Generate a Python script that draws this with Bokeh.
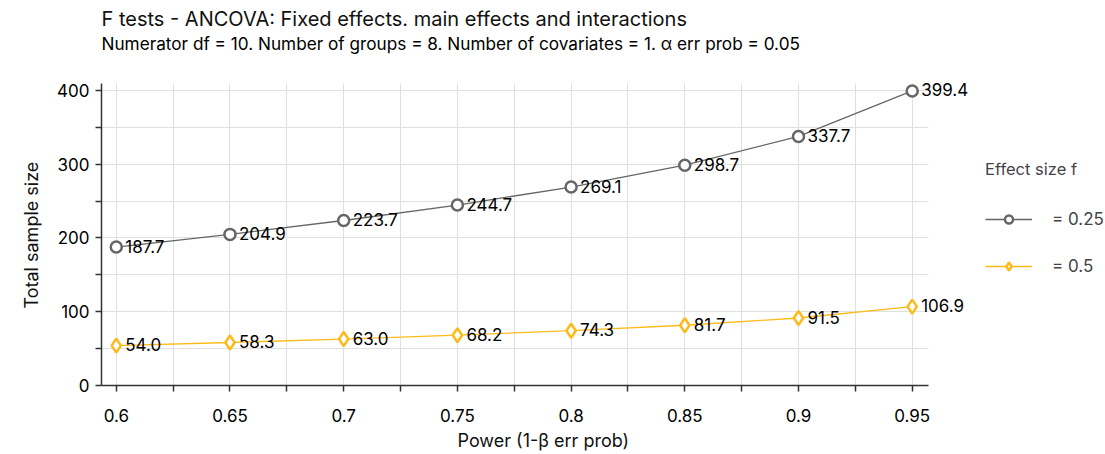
from bokeh.plotting import figure
from bokeh.models import (Range1d, FixedTicker, Legend, LegendItem, Title, ColumnDataSource,
                          LabelSet, Label)
from bokeh.core.properties import value
from bokeh.embed import file_html
from bokeh.resources import INLINE

power = [0.6, 0.65, 0.7, 0.75, 0.8, 0.85, 0.9, 0.95]
n_f025 = [187.7, 204.9, 223.7, 244.7, 269.1, 298.7, 337.7, 399.4]
n_f05 = [54.0, 58.3, 63.0, 68.2, 74.3, 81.7, 91.5, 106.9]
series_labels = ["= 0.25", "= 0.5"]
x_ticks = [0.6, 0.65, 0.7, 0.75, 0.8, 0.85, 0.9, 0.95]
x_minor = [0.625, 0.675, 0.725, 0.775, 0.825, 0.875, 0.925]
y_ticks = [0, 100, 200, 300, 400]
y_minor = [50, 150, 250, 350]
title_text = "F tests - ANCOVA: Fixed effects. main effects and interactions"
subtitle_text = "Numerator df = 10. Number of groups = 8. Number of covariates = 1. α err prob = 0.05"
x_label = "Power (1-β err prob)"
y_label = "Total sample size"

FONT = "Inter"
GRAY = "#666666"
YELLOW = "#FDBB1A"
X_AXIS_END = 0.957
Y_AXIS_END = 410

p = figure(width=1105, height=454, output_backend="svg", toolbar_location=None,
           x_range=Range1d(0.5935, 1.035), y_range=Range1d(0, 522),
           min_border_left=101, min_border_right=0, min_border_top=0, min_border_bottom=69)
p.outline_line_color = None
p.background_fill_color = "white"
p.border_fill_color = "white"

for ax in (p.xaxis[0], p.yaxis[0]):
    ax.axis_line_color = "#333333"
    ax.axis_line_width = 1.5
    ax.major_tick_line_color = "#333333"
    ax.minor_tick_line_color = "#333333"
    ax.major_tick_line_width = 1.5
    ax.minor_tick_line_width = 1.5
    ax.major_tick_in = 0
    ax.major_tick_out = 6
    ax.minor_tick_in = 0
    ax.minor_tick_out = 6
    ax.major_label_text_font = FONT
    ax.major_label_text_font_size = "17px"
    ax.major_label_text_color = "black"

p.xaxis.ticker = FixedTicker(ticks=x_ticks, minor_ticks=x_minor)
p.yaxis.ticker = FixedTicker(ticks=y_ticks, minor_ticks=y_minor)
p.xaxis.major_label_overrides = {v: ("%g" % v) for v in x_ticks}
p.xaxis.bounds = (0.5935, X_AXIS_END)
p.yaxis.bounds = (0, Y_AXIS_END)
p.xaxis.major_label_standoff = 17
p.yaxis.major_label_standoff = 6

for g in (p.xgrid[0], p.ygrid[0]):
    g.grid_line_color = "#e0e0e0"
    g.grid_line_width = 1
    g.minor_grid_line_color = "#e0e0e0"
    g.minor_grid_line_width = 1
p.xgrid[0].cross_bounds = (0, Y_AXIS_END)
p.ygrid[0].cross_bounds = (0.5935, X_AXIS_END)

# axis titles
xt = Title(text=x_label, text_font=FONT, text_font_size="18px", text_font_style="normal",
           align="left", offset=356, standoff=7, text_color="#111111")
p.add_layout(xt, "below")
yt = Title(text=y_label, text_font=FONT, text_font_size="18px", text_font_style="normal",
           align="left", offset=77, standoff=26, text_color="#111111")
p.add_layout(yt, "left")

# chart titles (screen units relative to the frame)
p.add_layout(Label(x=0, y=367, x_units="screen", y_units="screen", text=title_text,
                   text_font=FONT, text_font_size="20px", text_baseline="middle",
                   text_color="#111111"))
p.add_layout(Label(x=0, y=342, x_units="screen", y_units="screen", text=subtitle_text,
                   text_font=FONT, text_font_size="17.2px", text_baseline="middle",
                   text_color="black"))

src1 = ColumnDataSource(dict(x=power, y=n_f025, t=["%.1f" % v for v in n_f025]))
src2 = ColumnDataSource(dict(x=power, y=n_f05, t=["%.1f" % v for v in n_f05]))

l1 = p.line("x", "y", source=src1, line_color=GRAY, line_width=1.3)
m1 = p.scatter("x", "y", source=src1, marker="circle", size=11, fill_color="white",
               line_color=GRAY, line_width=2.5)
l2 = p.line("x", "y", source=src2, line_color=YELLOW, line_width=1.3)
m2 = p.scatter("x", "y", source=src2, marker="diamond", size=14, fill_color="white",
               line_color=YELLOW, line_width=2.5)

for s in (src1, src2):
    p.add_layout(LabelSet(x="x", y="y", text="t", source=s, x_offset=9, y_offset=1,
                          text_font=value(FONT), text_font_size=value("17px"),
                          text_baseline="middle", text_align="left", text_color="black"))

legend = Legend(items=[LegendItem(label=series_labels[0], renderers=[l1, m1]),
                       LegendItem(label=series_labels[1], renderers=[l2, m2])],
                location=(884, 109), title="Effect size f",
                title_text_font=FONT, title_text_font_size="16.5px", title_text_font_style="normal",
                label_text_font=FONT, label_text_font_size="17px",
                glyph_width=47, glyph_height=20, label_height=20, spacing=27,
                label_standoff=20, title_standoff=30, padding=0, margin=0,
                border_line_color=None, background_fill_alpha=0)
p.add_layout(legend, "center")

open("out.html", "w").write(file_html(p, INLINE))
